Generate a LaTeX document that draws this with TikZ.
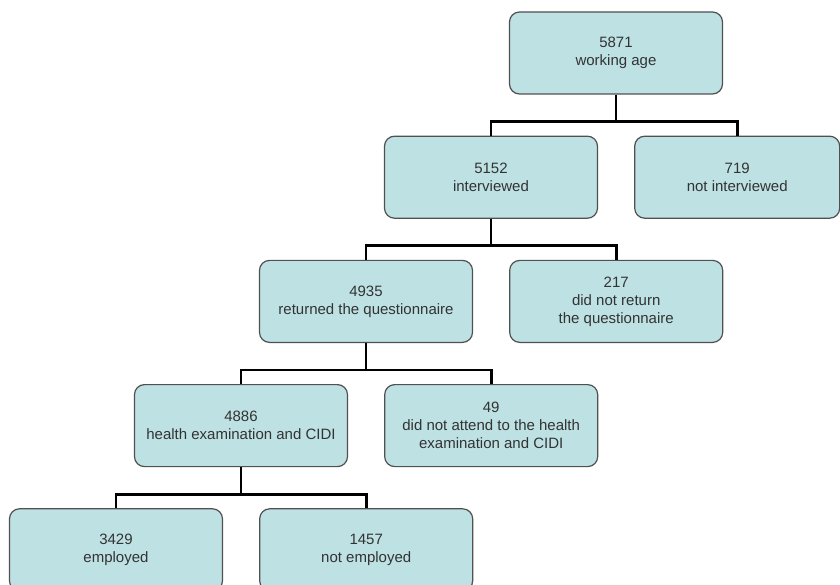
\documentclass[tikz,border=0pt]{standalone}
\usepackage{fontspec}
\setmainfont{Liberation Sans}
\usepackage{xcolor}
\definecolor{boxfill}{HTML}{BEE1E4}
\definecolor{boxline}{HTML}{505050}
\definecolor{textgrey}{HTML}{333333}
\usetikzlibrary{positioning}
\tikzset{
  flowbox/.style={draw=boxline,line width=1.2pt,rounded corners=10pt,fill=boxfill,align=center,minimum width=213pt,minimum height=82pt,inner sep=2pt,text=textgrey,font=\fontsize{15}{18}\selectfont},
  flowlink/.style={line width=2.8pt,black}
}

\begin{document}
\begin{tikzpicture}[node distance=41pt and 36pt]
\useasboundingbox (-616pt,53pt) rectangle (224pt,-532pt);
\node[flowbox] (age) at (0,0) {5871\\working age};
\node[flowbox,below=of age,xshift=-125pt] (intv) {5152\\interviewed};
\node[flowbox,right=of intv,minimum width=205pt] (nointv) {719\\not interviewed};
\node[flowbox,below=of intv,xshift=-125pt] (quest) {4935\\returned the questionnaire};
\node[flowbox,right=of quest] (noquest) {217\\did not return\\the questionnaire};
\node[flowbox,below=of quest,xshift=-125pt] (exam) {4886\\health examination and CIDI};
\node[flowbox,right=of exam] (noexam) {49\\did not attend to the health\\examination and CIDI};
\node[flowbox,below=of exam,xshift=-125pt] (empl) {3429\\employed};
\node[flowbox,right=of empl] (noempl) {1457\\not employed};
\draw[flowlink] (age.south) -- ++(0,-27pt) -| (intv.north);
\draw[flowlink] (age.south) -- ++(0,-27pt) -| (nointv.north);
\draw[flowlink] (intv.south) -- ++(0,-27pt) -| (quest.north);
\draw[flowlink] (intv.south) -- ++(0,-27pt) -| (noquest.north);
\draw[flowlink] (quest.south) -- ++(0,-27pt) -| (exam.north);
\draw[flowlink] (quest.south) -- ++(0,-27pt) -| (noexam.north);
\draw[flowlink] (exam.south) -- ++(0,-27pt) -| (empl.north);
\draw[flowlink] (exam.south) -- ++(0,-27pt) -| (noempl.north);
\end{tikzpicture}
\end{document}
